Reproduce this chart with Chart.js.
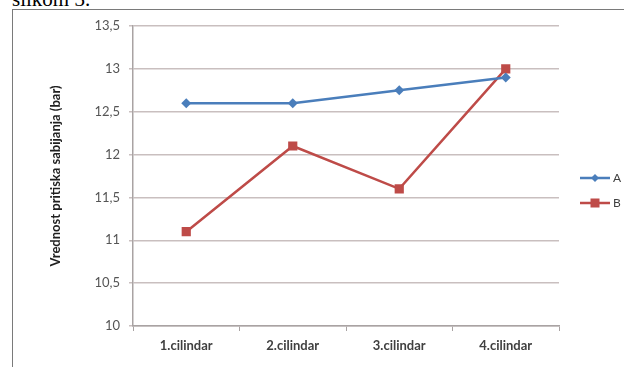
<!DOCTYPE html>
<html>
<head>
<meta charset="utf-8">
<script src="https://cdn.jsdelivr.net/npm/chart.js@4.4.0/dist/chart.umd.min.js"></script>
<style>
  html, body { margin: 0; padding: 0; background: #fff; overflow: hidden; }
  #wrap { position: relative; width: 624px; height: 367px; }
  #caption { position: absolute; left: 12px; top: -11px; font: 21px "Liberation Serif", serif; line-height: 1; color: #000; }
  #frame { position: absolute; left: 12px; top: 9px; width: 640px; height: 400px; border-left: 1.5px solid #7a7a7a; border-top: 1.5px solid #7a7a7a; }
  canvas { position: absolute; left: 0; top: 0; }
</style>
</head>
<body>
<div id="wrap">
  <div id="caption">slikom 3.</div>
  <div id="frame"></div>
  <canvas id="myChart" width="624" height="367"></canvas>
</div>
<script>
const cylinders = ['1.cilindar', '2.cilindar', '3.cilindar', '4.cilindar'];
const seriesA = [12.6, 12.6, 12.75, 12.9];
const seriesB = [11.1, 12.1, 11.6, 13.0];
const yMin = 10;
const yMax = 13.5;
const yStep = 0.5;

const blue = '#4a7ebb';
const red = '#be4b48';

// legend drawn Excel-style: short line with the marker in the middle
const sideLegend = {
    id: 'sideLegend',
    afterDraw(chart) {
        const ctx = chart.ctx;
        const x0 = 580, x1 = 610;
        chart.data.datasets.forEach((ds, i) => {
            const y = 178 + i * 25;
            ctx.save();
            ctx.strokeStyle = ds.borderColor;
            ctx.lineWidth = 2.5;
            ctx.beginPath();
            ctx.moveTo(x0, y);
            ctx.lineTo(x1, y);
            ctx.stroke();
            ctx.fillStyle = ds.backgroundColor;
            const m = (x0 + x1) / 2;
            if (ds.pointStyle === 'rectRot') {
                ctx.beginPath();
                ctx.moveTo(m, y - 4);
                ctx.lineTo(m + 4, y);
                ctx.lineTo(m, y + 4);
                ctx.lineTo(m - 4, y);
                ctx.closePath();
                ctx.fill();
            } else {
                ctx.fillRect(m - 4.5, y - 4.5, 9, 9);
            }
            ctx.fillStyle = '#404040';
            ctx.font = '12px Lato';
            ctx.textBaseline = 'middle';
            ctx.fillText(ds.label, x1 + 3, y);
            ctx.restore();
        });
    }
};

const ctx = document.getElementById('myChart').getContext('2d');
const myChart = new Chart(ctx, {
    type: 'line',
    data: {
        labels: cylinders,
        datasets: [{
            label: 'A',
            data: seriesA,
            borderColor: blue,
            backgroundColor: blue,
            borderWidth: 2.5,
            pointStyle: 'rectRot',
            pointRadius: 5,
            pointBorderWidth: 0,
            tension: 0
        }, {
            label: 'B',
            data: seriesB,
            borderColor: red,
            backgroundColor: red,
            borderWidth: 2.5,
            pointStyle: 'rect',
            pointRadius: 6.5,
            pointBorderWidth: 0,
            tension: 0
        }]
    },
    options: {
        responsive: false,
        animation: false,
        layout: { padding: { left: 0, top: 26, right: 65, bottom: 0 } },
        plugins: {
            legend: { display: false },
            tooltip: { enabled: false }
        },
        scales: {
            x: {
                offset: true,
                grid: {
                    offset: true,
                    drawOnChartArea: false,
                    drawTicks: true,
                    tickLength: 5,
                    color: '#a9a3a3'
                },
                border: { color: '#a9a3a3', width: 1.5 },
                ticks: {
                    color: '#404040',
                    font: { family: 'Lato', size: 13, weight: 'bold' },
                    padding: 7,
                    maxRotation: 0
                },
                afterFit: s => { s.height = 41; }
            },
            y: {
                min: yMin,
                max: yMax,
                grid: {
                    color: '#c9bfbf',
                    lineWidth: 1.5,
                    tickLength: 4
                },
                border: { color: '#a9a3a3', width: 1.5 },
                ticks: {
                    stepSize: yStep,
                    color: '#555555',
                    font: { family: 'Lato', size: 13 },
                    padding: 9,
                    callback: v => String(v).replace('.', ',')
                },
                title: {
                    display: true,
                    text: 'Vrednost pritiska sabijanja (bar)',
                    color: '#202020',
                    font: { family: 'Lato', size: 13, weight: 'bold' },
                    padding: { top: 48 }
                },
                afterFit: s => { s.width = 133; }
            }
        }
    },
    plugins: [sideLegend]
});
</script>
</body>
</html>
